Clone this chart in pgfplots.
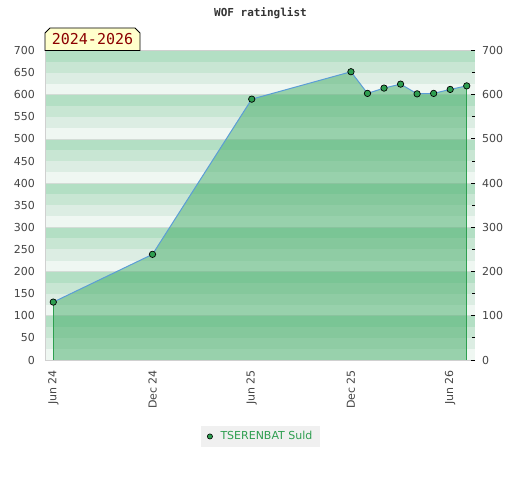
\documentclass[border=0pt]{standalone}
\usepackage{fontspec}
\setmainfont{DejaVu Sans}
\newfontfamily\monofont{DejaVu Sans Mono}
\usepackage{pgfplots}
\usepackage{pgfplotstable}
\pgfplotsset{compat=1.18}
\definecolor{sA}{HTML}{EFF7F2}
\definecolor{sB}{HTML}{DCEDE3}
\definecolor{sC}{HTML}{C8E6D3}
\definecolor{sD}{HTML}{B3DFC4}
\definecolor{gridc}{HTML}{D3DCD6}
\definecolor{fillc}{RGB}{67,172,103}
\definecolor{linec}{RGB}{91,157,214}
\definecolor{markc}{RGB}{46,158,80}
\definecolor{edgec}{RGB}{46,160,80}
\definecolor{labc}{HTML}{444444}
\definecolor{framec}{HTML}{D0D0D0}
\definecolor{boxc}{HTML}{FFFFCC}
\definecolor{redc}{HTML}{8B0000}
\definecolor{legbg}{HTML}{F0F0F0}

\pgfplotstableread{
month rating
0 131
6 239
12 590
18 652
19 603
20 615
21 624
22 602
23 603
24 612
25 620
}\ratingdata

\begin{document}
\begin{tikzpicture}
\begin{axis}[
  at={(0,0)}, anchor=south west, scale only axis,
  width=430bp, height=309.5bp,
  xmin=-0.5, xmax=25.5, ymin=0, ymax=700,
  xtick={0,6,12,18,24},
  xticklabels={Jun 24,Dec 24,Jun 25,Dec 25,Jun 26},
  ytick={0,50,...,700},
  major tick length=0pt,
  tick style={draw=none},
  axis line style={draw=none},
  /pgf/number format/assume math mode=true,
  xticklabel style={rotate=90, anchor=east, inner sep=0pt,
    font=\fontsize{11bp}{13bp}\selectfont, text=labc},
  yticklabel style={anchor=east, inner sep=0pt,
    font=\fontsize{11bp}{13bp}\selectfont, text=labc},
  xticklabel shift=10bp, yticklabel shift=10bp,
  legend style={at={(0.502,-0.247)}, anchor=center, fill=legbg, draw=none,
    font=\fontsize{11bp}{13bp}\selectfont, text=markc,
    inner xsep=6bp, inner ysep=4bp},
  legend cell align=left,
]
\pgfplotsinvokeforeach{0,100,200,300,400,500,600}{
  \fill[sA] (axis cs:-0.5,#1) rectangle (axis cs:25.5,#1+25);
  \fill[sB] (axis cs:-0.5,#1+25) rectangle (axis cs:25.5,#1+50);
  \fill[sC] (axis cs:-0.5,#1+50) rectangle (axis cs:25.5,#1+75);
  \fill[sD] (axis cs:-0.5,#1+75) rectangle (axis cs:25.5,#1+100);
  \draw[gridc, line width=0.8bp] (axis cs:-0.5,#1) -- (axis cs:25.5,#1);
}
\addlegendimage{only marks, mark=*, mark size=2.6bp,
  mark options={fill=markc, draw=black, line width=0.6bp}}
\addlegendentry{\hspace{6bp}TSERENBAT Suld}
\addplot[draw=none, fill=fillc, fill opacity=0.5, forget plot]
  table[x=month, y=rating] {\ratingdata} \closedcycle;
\addplot[edgec, line width=1bp, forget plot] coordinates {(0,0) (0,131)};
\addplot[edgec, line width=1bp, forget plot] coordinates {(25,0) (25,620)};
\addplot[linec, line width=1bp, mark=*, mark size=3.2bp,
  mark options={fill=markc, draw=black, line width=0.7bp, solid}, forget plot]
  table[x=month, y=rating] {\ratingdata};
\draw[framec, line width=1bp] (rel axis cs:1,1) -- (rel axis cs:0,1)
  -- (rel axis cs:0,0) -- (rel axis cs:1,0);
\end{axis}
\begin{axis}[
  at={(0,0)}, anchor=south west, scale only axis,
  width=430bp, height=309.5bp,
  xmin=-0.5, xmax=25.5, ymin=0, ymax=700,
  xtick=\empty,
  ytick={0,100,...,700},
  minor ytick={50,150,...,650},
  ytick pos=right, yticklabel pos=right,
  tick align=inside,
  major tick length=4.5bp, minor tick length=2.7bp,
  tick style={black, line width=0.9bp},
  axis line style={draw=none},
  /pgf/number format/assume math mode=true,
  yticklabel style={anchor=west, inner sep=0pt,
    font=\fontsize{11bp}{13bp}\selectfont, text=labc},
  yticklabel shift=7bp,
]
\addplot[draw=none] coordinates {(0,0)};
\end{axis}
\node[font=\monofont\bfseries\fontsize{11bp}{13bp}\selectfont, text=black!80]
  at (215.5bp,347bp) {WOF ratinglist};
\draw[fill=boxc, draw=black, line width=0.8bp]
  (0bp,309.5bp) -- (0bp,327bp) -- (5bp,332bp) -- (90bp,332bp)
  -- (95bp,327bp) -- (95bp,309.5bp) -- cycle;
\node[font=\monofont\fontsize{15bp}{17bp}\selectfont, text=redc]
  at (47.5bp,320.5bp) {2024-2026};
\pgfresetboundingbox
\path[use as bounding box] (-45bp,-120bp) rectangle (475bp,360bp);
\end{tikzpicture}
\end{document}
